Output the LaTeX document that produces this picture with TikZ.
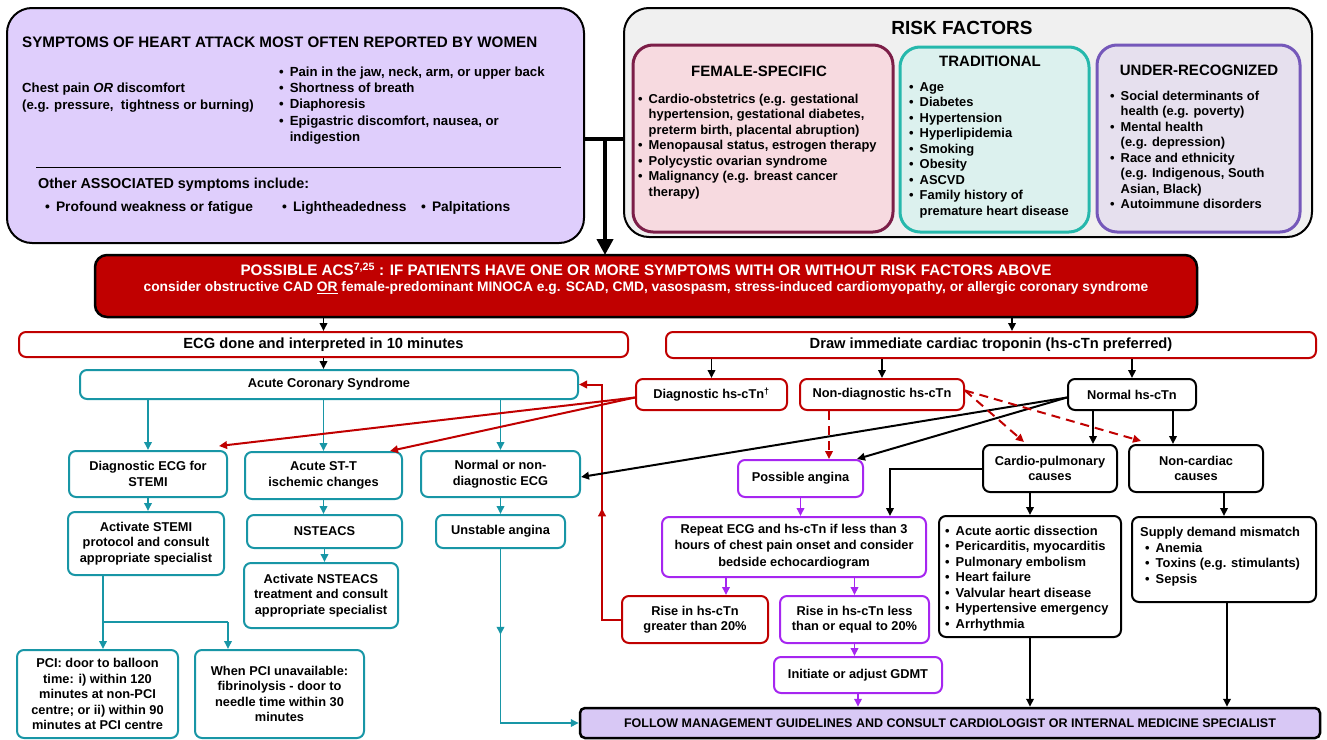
\documentclass[tikz,border=0pt]{standalone}
\usepackage{fontspec}
\setmainfont{Liberation Sans}
\usetikzlibrary{arrows.meta,calc,positioning,decorations.markings}

\definecolor{accred}{RGB}{192,0,0}
\definecolor{acsteal}{RGB}{24,150,166}
\definecolor{violetb}{RGB}{166,38,240}
\definecolor{lav}{RGB}{223,206,252}
\definecolor{follfill}{RGB}{216,200,245}
\definecolor{riskgrey}{RGB}{240,240,240}
\definecolor{femline}{RGB}{124,30,72}
\definecolor{femfill}{RGB}{247,218,224}
\definecolor{tradline}{RGB}{38,184,172}
\definecolor{tradfill}{RGB}{220,241,238}
\definecolor{undline}{RGB}{117,88,186}
\definecolor{undfill}{RGB}{230,224,238}

\newcommand{\bx}{\fontsize{12.8}{15.5}\selectfont\bfseries}
\newcommand{\lst}{\fontsize{12.9}{15.5}\selectfont\bfseries}
\newcommand{\hd}{\fontsize{15}{18}\selectfont\bfseries}
\newcommand{\bul}{\textbullet\hspace{6pt}}
\newcommand{\ibul}{\hphantom{\textbullet\hspace{6pt}}}

\begin{document}
\begin{tikzpicture}[x=1pt,y=-1pt,
    sz/.style 2 args={minimum width=#1pt,minimum height=#2pt},
    box/.style={rounded corners=7pt,line width=2pt,fill=white,align=center,inner sep=0pt,font=\bx},
    redbox/.style={box,draw=accred},
    tealbox/.style={box,draw=acsteal},
    purpbox/.style={box,draw=violetb},
    blkbox/.style={box,draw=black},
    txt/.style={inner sep=0pt,align=left,font=\lst},
    arr/.style={line width=1.8pt,-{Triangle[length=8pt,width=7.5pt]}},
    barr/.style={arr,draw=black},
    rarr/.style={arr,draw=accred,line width=2pt},
    tarr/.style={arr,draw=acsteal},
    parr/.style={arr,draw=violetb},
    rdash/.style={rarr,dash pattern=on 9pt off 6pt},
    midarr/.style={postaction={decorate},decoration={markings,
      mark=at position #1 with {\arrow{Triangle[length=8pt,width=7.5pt]}}}}]
    \useasboundingbox (0,0) rectangle (1327,739);

    \node[draw,line width=2pt,fill=lav,rounded corners=25pt,sz={577}{235}] (symp) at (295.5,125.5) {};
    \node[txt,anchor=west,font=\fontsize{15.2}{18}\selectfont\bfseries] (symptitle) at (22,42) {SYMPTOMS OF HEART ATTACK MOST OFTEN REPORTED BY WOMEN};
    \node[txt,anchor=west,font=\fontsize{13.2}{17}\selectfont\bfseries] (chest) at (22,97.5) {Chest pain \textit{OR} discomfort\\(e.g. pressure,\ \ tightness or burning)};
    \node[txt,anchor=west,font=\fontsize{13.2}{16.3}\selectfont\bfseries] (sympl) at (279,105.5) {\bul Pain in the jaw, neck, arm, or upper back\\\bul Shortness of breath\\\bul Diaphoresis\\\bul Epigastric discomfort, nausea, or\\\ibul indigestion};
    \draw[line width=0.6pt] (36,167) -- (561,167);
    \node[txt,anchor=west,font=\fontsize{14.4}{17}\selectfont\bfseries] (other) at (38,185) {Other ASSOCIATED symptoms include:};
    \node[txt,anchor=west,font=\fontsize{13.8}{17}\selectfont\bfseries] (oth1) at (45,208) {\bul Profound weakness or fatigue};
    \node[txt,anchor=west,font=\fontsize{13.8}{17}\selectfont\bfseries] (oth2) at (282,208) {\bul Lightheadedness};
    \node[txt,anchor=west,font=\fontsize{13.8}{17}\selectfont\bfseries] (oth3) at (421,208) {\bul Palpitations};

    \node[draw,line width=2pt,fill=riskgrey,rounded corners=25pt,sz={688}{229}] (risk) at (968,122.5) {};
    \node[font=\fontsize{19}{22}\selectfont\bfseries] (risktitle) at (962,28) {RISK FACTORS};
    \node[draw=femline,line width=3pt,fill=femfill,rounded corners=20pt,sz={260}{187}] (fem) at (763,138.5) {};
    \node[font=\hd] (femtitle) at (759,71) {FEMALE-SPECIFIC};
    \node[txt,anchor=west] (feml) at (638,146.5) {\bul Cardio-obstetrics (e.g. gestational\\\ibul hypertension, gestational diabetes,\\\ibul preterm birth, placental abruption)\\\bul Menopausal status, estrogen therapy\\\bul Polycystic ovarian syndrome\\\bul Malignancy (e.g. breast cancer\\\ibul therapy)};
    \node[draw=tradline,line width=3pt,fill=tradfill,rounded corners=20pt,sz={189}{185}] (trad) at (994.5,139.5) {};
    \node[font=\hd] (tradtitle) at (990,61) {TRADITIONAL};
    \node[txt,anchor=west] (tradl) at (909,150) {\bul Age\\\bul Diabetes\\\bul Hypertension\\\bul Hyperlipidemia\\\bul Smoking\\\bul Obesity\\\bul ASCVD\\\bul Family history of\\\ibul premature heart disease};
    \node[draw=undline,line width=3pt,fill=undfill,rounded corners=20pt,sz={203}{187}] (und) at (1198.5,138.5) {};
    \node[font=\hd] (undtitle) at (1199,70) {UNDER-RECOGNIZED};
    \node[txt,anchor=west] (undl) at (1110,150) {\bul Social determinants of\\\ibul health (e.g. poverty)\\\bul Mental health\\\ibul (e.g. depression)\\\bul Race and ethnicity\\\ibul (e.g. Indigenous, South\\\ibul Asian, Black)\\\bul Autoimmune disorders};

    \coordinate (tj) at (605,139);
    \draw[line width=4pt] (symp.east |- tj) -- (risk.west |- tj);
    \draw[line width=4pt,-{Triangle[length=16pt,width=16pt]}] (tj) -- (tj |- 0,255);

    \node[draw=black,line width=2.5pt,fill=accred,rounded corners=12pt,sz={1102}{62},text=white,align=center,inner sep=0pt] (acsred) at (646,286)
      {\fontsize{15.2}{16}\selectfont\bfseries POSSIBLE ACS\textsuperscript{7,25} : IF PATIENTS HAVE ONE OR MORE SYMPTOMS WITH OR WITHOUT RISK FACTORS ABOVE\\[4pt]
       \fontsize{13.8}{16}\selectfont\bfseries consider obstructive CAD \underline{OR} female-predominant MINOCA e.g. SCAD, CMD, vasospasm, stress-induced cardiomyopathy, or allergic coronary syndrome\\[5pt]};

    \node[redbox,sz={609}{25},font=\fontsize{14.7}{17}\selectfont\bfseries] (ecg) at (323.5,344.5) {ECG done and interpreted in 10 minutes};
    \node[redbox,sz={650}{26},font=\fontsize{14.7}{17}\selectfont\bfseries] (trop) at (991,345) {Draw immediate cardiac troponin (hs-cTn preferred)};
    \node[tealbox,sz={498}{29}] (acs) at (329,384.5) {Acute Coronary Syndrome};
    \node[redbox,sz={151}{31}] (diag) at (711.5,394.5) {Diagnostic hs-cTn\textsuperscript{\textdagger}};
    \node[redbox,sz={164}{31}] (nondiag) at (882,394.5) {Non-diagnostic hs-cTn};
    \node[blkbox,sz={128}{31}] (normal) at (1132,394.5) {Normal hs-cTn};

    \node[tealbox,sz={158}{46}] (diagecg) at (148,474) {Diagnostic ECG for\\STEMI};
    \node[tealbox,sz={157}{47}] (stt) at (323.5,475.5) {Acute ST-T\\ischemic changes};
    \node[tealbox,sz={159}{46}] (normecg) at (500.5,474) {Normal or non-\\diagnostic ECG};
    \node[tealbox,sz={156}{63}] (actstemi) at (146,543.5) {Activate STEMI\\protocol and consult\\appropriate specialist};
    \node[tealbox,sz={155}{33}] (nsteacs) at (324.5,531.5) {NSTEACS};
    \node[tealbox,sz={129}{33}] (unstable) at (500.5,531.5) {Unstable angina};
    \node[tealbox,sz={154}{65}] (actnste) at (321,595.5) {Activate NSTEACS\\treatment and consult\\appropriate specialist};
    \node[tealbox,sz={161}{88}] (pci) at (97.5,694) {PCI: door to balloon\\time: i) within 120\\minutes at non-PCI\\centre; or ii) within 90\\minutes at PCI centre};
    \node[tealbox,sz={169}{88}] (fibr) at (279.5,694) {When PCI unavailable:\\fibrinolysis - door to\\needle time within 30\\minutes};

    \node[purpbox,sz={125}{37}] (possang) at (800.5,478.5) {Possible angina};
    \node[blkbox,sz={134}{47}] (cardio) at (1050,468.5) {Cardio-pulmonary\\causes};
    \node[blkbox,sz={134}{47}] (noncard) at (1196,468.5) {Non-cardiac\\causes};
    \node[purpbox,sz={264}{60}] (repeat) at (794,547) {Repeat ECG and hs-cTn if less than 3\\hours of chest pain onset and consider\\[2pt]bedside echocardiogram};
    \node[blkbox,sz={182}{121}] (cardlist) at (1030,576.5) {};
    \node[txt,anchor=west] (cardlt) at (945,578.5) {\bul Acute aortic dissection\\\bul Pericarditis, myocarditis\\\bul Pulmonary embolism\\\bul Heart failure\\\bul Valvular heart disease\\\bul Hypertensive emergency\\\bul Arrhythmia};
    \node[blkbox,sz={184}{85}] (noncardlist) at (1224,559.5) {};
    \node[txt,anchor=west] (noncardlt) at (1140,556.5) {Supply demand mismatch\\\hspace{5pt}\bul Anemia\\\hspace{5pt}\bul Toxins (e.g. stimulants)\\\hspace{5pt}\bul Sepsis};
    \node[redbox,sz={146}{47}] (risegt) at (695,619.5) {Rise in hs-cTn\\greater than 20\%};
    \node[purpbox,sz={149}{47}] (risele) at (854.5,619.5) {Rise in hs-cTn less\\than or equal to 20\%};
    \node[purpbox,sz={168}{36}] (gdmt) at (858,675) {Initiate or adjust GDMT};
    \node[draw=black,line width=2.5pt,fill=follfill,rounded corners=5pt,sz={740}{30},font=\fontsize{12.5}{15}\selectfont\bfseries] (follow) at (950,723) {FOLLOW MANAGEMENT GUIDELINES AND CONSULT CARDIOLOGIST OR INTERNAL MEDICINE SPECIALIST};

    \draw[barr] (ecg.north |- acsred.south) -- (ecg.north);
    \draw[barr] ([xshift=21pt]trop.north |- acsred.south) -- ([xshift=21pt]trop.north);
    \draw[barr] (ecg.south) -- (ecg.south |- acs.north);
    \draw[barr] (diag.north |- trop.south) -- (diag.north);
    \draw[barr] (nondiag.north |- trop.south) -- (nondiag.north);
    \draw[barr] (normal.north |- trop.south) -- (normal.north);

    \draw[tarr] (diagecg.north |- acs.south) -- (diagecg.north);
    \draw[tarr] (stt.north |- acs.south) -- (stt.north);
    \draw[tarr] (normecg.north |- acs.south) -- (normecg.north);
    \draw[tarr] (diagecg.south) -- (diagecg.south |- actstemi.north);
    \draw[tarr] (stt.south) -- (stt.south |- nsteacs.north);
    \draw[tarr] (nsteacs.south) -- (nsteacs.south |- actnste.north);
    \draw[tarr] (normecg.south) -- (normecg.south |- unstable.north);
    \coordinate (sp) at (103,622);
    \coordinate (sp2) at (228,622);
    \draw[line width=1.8pt,draw=acsteal] (actstemi.south -| sp) -- (sp) -- (sp2);
    \draw[tarr] (sp) -- (sp |- pci.north);
    \draw[tarr] (sp2) -- (sp2 |- fibr.north);
    \draw[tarr,midarr=0.34] (unstable.south) |- (follow.west);

    \draw[rarr] ([yshift=-3pt]diag.west) -- ([xshift=-9pt,yshift=4pt]diagecg.north east);
    \draw[rarr] ([yshift=-3pt]diag.west) -- ([xshift=-13pt]stt.north east);
    \coordinate (fb) at (602,384.5);
    \draw[rarr,midarr=0.47] (risegt.west) -| (fb) -- (acs.east);

    \draw[barr,line width=2pt] ([yshift=-3pt]normal.west) -- ([yshift=-3pt]normecg.east);
    \draw[barr,line width=2pt] ([yshift=-3pt]normal.west) -- ([xshift=-7pt]possang.north east);
    \draw[rdash] ([xshift=-53pt]nondiag.south) -- ([xshift=-53pt]nondiag.south |- possang.north);
    \draw[rdash] ([yshift=4pt]nondiag.east) -- ([xshift=42pt,yshift=2pt]cardio.north west);
    \draw[rdash] ([yshift=4pt]nondiag.east) -- ([xshift=13pt,yshift=3pt]noncard.north west);
    \draw[barr] ([xshift=-39pt]normal.south) -- ([xshift=-39pt]normal.south |- cardio.north);
    \draw[barr] ([xshift=41pt]normal.south) -- ([xshift=41pt]normal.south |- noncard.north);

    \draw[parr] (possang.south) -- (possang.south |- repeat.north);
    \draw[barr,line width=2pt] (cardio.west) -| ([xshift=96pt]repeat.north);
    \draw[barr] (cardlist.north |- cardio.south) -- (cardlist.north);
    \draw[barr] (noncardlist.north |- noncard.south) -- (noncardlist.north);
    \draw[barr] (cardlist.south) -- (cardlist.south |- follow.north);
    \draw[barr] ([xshift=3pt]noncardlist.south) -- ([xshift=3pt]noncardlist.south |- follow.north);
    \draw[parr] ([xshift=31pt]risegt.north |- repeat.south) -- ([xshift=31pt]risegt.north);
    \draw[parr] (risele.north |- repeat.south) -- (risele.north);
    \draw[parr] (risele.south) -- (risele.south |- gdmt.north);
    \draw[parr] (gdmt.south) -- (gdmt.south |- follow.north);
\end{tikzpicture}
\end{document}
